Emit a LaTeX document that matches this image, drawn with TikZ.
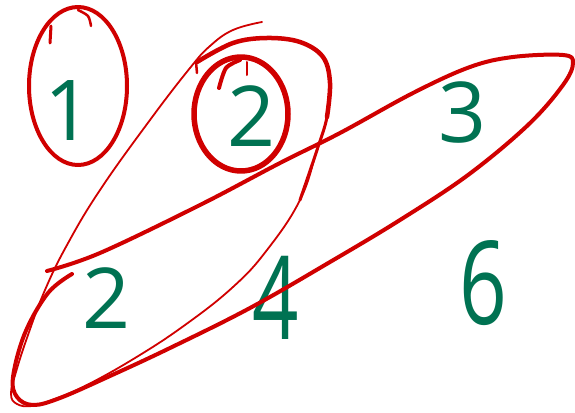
\documentclass[tikz,border=0pt]{standalone}
\usepackage{fontspec}
\setmainfont{Open Sans}
\definecolor{pen}{RGB}{208,0,0}
\definecolor{ink}{RGB}{0,114,82}
\begin{document}
\begin{tikzpicture}[x=1pt,y=-1pt,
  redline/.style={draw=pen,line cap=round,line join=round},
  digit/.style={text=ink,inner sep=0pt,font=\fontsize{84}{84}\selectfont},
  bigdigit/.style={text=ink,inner sep=0pt,font=\fontsize{116}{116}\selectfont}]
\useasboundingbox (0,0) rectangle (575,412);
\fill[white] (0,0) rectangle (575,412);

% digits
\node[digit] (one) at (69,111) {1};
\node[digit] (twoA) at (252,116) {2};
\node[digit] (three) at (463,112) {3};
\node[digit] (twoB) at (107,298) {2};
\node[bigdigit] (four) at (276,298) {\scalebox{0.7}[1]{4}};
\node[bigdigit] (six) at (483,283) {\scalebox{0.72}[1]{6}};

% ellipse around 1
\draw[redline,line width=4pt] (78,86) ellipse [x radius=49, y radius=79];
\draw[redline,line width=3pt] (50,43) -- (51,26);
\draw[redline,line width=2.5pt] plot[smooth] coordinates {(78,10) (88,16) (91,26)};

% circle around top 2
\draw[redline,line width=5.5pt] (241,114) ellipse [x radius=47, y radius=57];
\draw[redline,line width=4pt] plot[smooth] coordinates {(219,88) (226,68) (240,60)};
\draw[redline,line width=2pt] (247,62) -- (247,75);

% long loop around 3 and bottom 2
\draw[redline,line width=4pt] plot[smooth,tension=0.6] coordinates {
  (72,274) (48,293) (25,333) (13,377) (17,397) (33,405) (60,398)
  (110,376) (170,348) (250,308) (330,262) (400,220) (468,175)
  (528,125) (563,85) (573,63) (563,55) (513,57) (470,67) (413,93)
  (340,133) (280,163) (200,205) (100,253) (47,271)};

% big thin loop around top 2 and bottom 2
\draw[redline,line width=1.8pt] plot[smooth,tension=0.7] coordinates {
  (262,22) (233,30) (210,46) (190,68) (150,120) (100,190) (67,245)
  (45,290) (28,335) (16,372) (11,394) (17,404) (32,406) (52,400)
  (85,386) (135,358) (185,325) (233,287) (267,250) (300,200) (317,150)
  (327,117) (330,83) (323,57) (300,42) (267,38) (233,43) (197,62)};
\draw[redline,line width=4.5pt] plot[smooth,tension=0.6] coordinates {
  (197,62) (233,43) (267,38) (300,42) (323,57) (330,83) (327,117)};
\draw[redline,line width=3pt] plot[smooth,tension=0.6] coordinates {
  (330,83) (327,117) (317,150) (300,200)};
\draw[redline,line width=2.5pt] (196,62) -- (197,73);
\end{tikzpicture}
\end{document}
